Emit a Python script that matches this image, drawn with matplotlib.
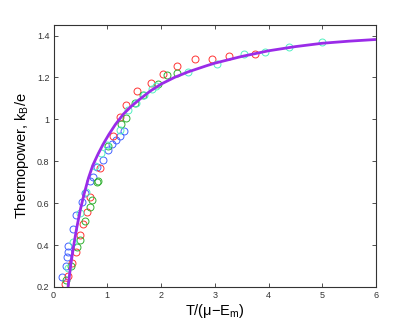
import matplotlib
matplotlib.use("Agg")
import matplotlib.pyplot as plt

plt.rcParams["font.family"] = ["Liberation Sans", "DejaVu Sans"]
plt.rcParams["mathtext.default"] = "regular"

# data
blue_x = [0.16, 0.235, 0.248, 0.26, 0.272, 0.366, 0.42, 0.528, 0.584, 0.677, 0.727,
          0.807, 0.919, 1.01, 1.087, 1.155, 1.23, 1.304]
blue_y = [0.248, 0.301, 0.343, 0.369, 0.396, 0.477, 0.544, 0.607, 0.647, 0.705, 0.726,
          0.773, 0.805, 0.853, 0.881, 0.9, 0.921, 0.943]

red_x = [0.211, 0.273, 0.342, 0.41, 0.497, 0.547, 0.615, 0.683, 0.863, 1.11, 1.23,
         1.342, 1.559, 1.82, 2.037, 2.29, 2.64, 2.94, 3.26, 3.75]
red_y = [0.214, 0.254, 0.314, 0.366, 0.449, 0.501, 0.556, 0.628, 0.767, 0.921, 1.013,
         1.07, 1.136, 1.171, 1.217, 1.253, 1.288, 1.288, 1.30, 1.311]

green_x = [0.224, 0.33, 0.43, 0.49, 0.584, 0.67, 0.714, 0.80, 0.83, 1.01, 1.255,
           1.348, 1.52, 1.67, 1.95, 2.12, 2.29]
green_y = [0.232, 0.298, 0.39, 0.425, 0.514, 0.583, 0.615, 0.699, 0.704, 0.873, 0.976,
           1.006, 1.08, 1.118, 1.17, 1.21, 1.219]

cyan_x = [0.273, 0.366, 0.5, 0.60, 0.776, 0.876, 1.0, 1.24, 1.38, 1.53, 1.69, 1.83,
          1.9, 2.51, 3.04, 3.54, 3.93, 4.39, 4.99]
cyan_y = [0.29, 0.417, 0.555, 0.655, 0.778, 0.837, 0.876, 0.95, 1.043, 1.08, 1.118,
          1.145, 1.161, 1.228, 1.264, 1.311, 1.322, 1.347, 1.371]

curve_x = [0.27, 0.32, 0.37, 0.43, 0.5, 0.57, 0.65, 0.73, 0.82, 0.92, 1.03, 1.15,
           1.3, 1.45, 1.6, 1.8, 2.0, 2.25, 2.5, 2.85, 3.0, 3.5, 4.0, 4.5, 5.0, 5.5, 6.0]
curve_y = [0.2, 0.305, 0.39, 0.48, 0.57, 0.645, 0.72, 0.78, 0.83, 0.88, 0.928, 0.975,
           1.025, 1.063, 1.095, 1.135, 1.168, 1.2, 1.226, 1.256, 1.268, 1.3, 1.327,
           1.347, 1.363, 1.373, 1.381]

x_ticks = [0, 1, 2, 3, 4, 5, 6]
y_ticks = [0.2, 0.4, 0.6, 0.8, 1.0, 1.2, 1.4]
y_tick_labels = ["0.2", "0.4", "0.6", "0.8", "1", "1.2", "1.4"]

fig = plt.figure(figsize=(4.15, 3.25), dpi=100)
ax = fig.add_axes([0.129, 0.117, 0.777, 0.806])

mk = dict(linestyle="none", marker="o", markerfacecolor="none",
          markersize=5, markeredgewidth=0.7)
ax.plot(blue_x, blue_y, markeredgecolor="#4262ff", **mk)
ax.plot(red_x, red_y, markeredgecolor="#ff3434", **mk)
ax.plot(green_x, green_y, markeredgecolor="#30b030", **mk)
ax.plot(cyan_x, cyan_y, markeredgecolor="#50f0c0", **mk)
ax.plot(curve_x, curve_y, color="#9a2be8", linewidth=2.0, solid_capstyle="butt",
        solid_joinstyle="round")

ax.set_xlim(0, 6)
ax.set_ylim(0.2, 1.45)
ax.set_xticks(x_ticks)
ax.set_xticklabels([str(t) for t in x_ticks])
ax.set_yticks(y_ticks)
ax.set_yticklabels(y_tick_labels)
ax.tick_params(direction="in", length=3, width=0.6, labelsize=6.5,
               top=True, right=True, colors="#333333", pad=3)

for sp in ax.spines.values():
    sp.set_color("#333333")
    sp.set_linewidth(0.8)

ax.set_xlabel("T/(\u03bc\u2212E$_m$)", fontsize=10.5, labelpad=1)
ax.set_ylabel("Thermopower, k$_B$/e", fontsize=10.5, labelpad=4)

fig.savefig("out.png", dpi=100)
